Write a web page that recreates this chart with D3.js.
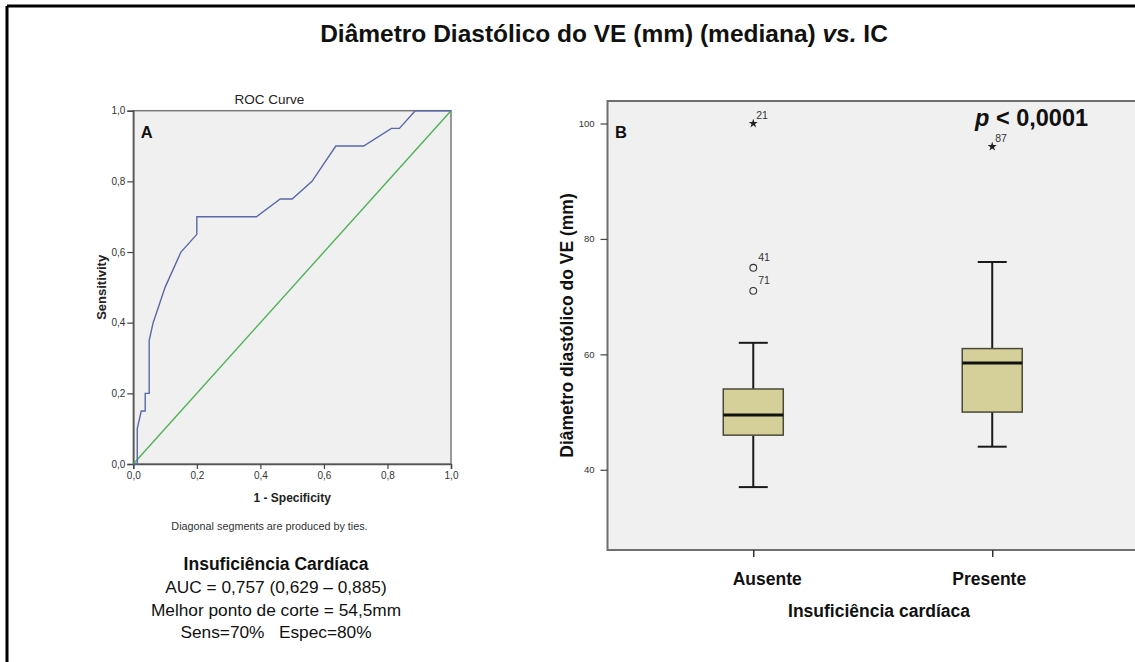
<!DOCTYPE html>
<html>
<head>
<meta charset="utf-8">
<script src="https://cdn.jsdelivr.net/npm/d3@7"></script>
<style>
  html, body { margin: 0; padding: 0; background: #fff; }
  svg { display: block; }
  text { font-family: "Liberation Sans", Arial, sans-serif; }
</style>
</head>
<body>
<svg id="fig" width="1135" height="662"></svg>
<script>
// ROC curve: false positive rate (1 - specificity) and sensitivity
const rocFpr = [0, 0.0125, 0.0125, 0.025, 0.0375, 0.0375, 0.05, 0.05, 0.0625, 0.1, 0.15, 0.2, 0.2,
                0.3875, 0.4625, 0.5, 0.5625, 0.6375, 0.725, 0.8125, 0.8375, 0.8875, 1];
const rocTpr = [0, 0, 0.10, 0.15, 0.15, 0.20, 0.20, 0.35, 0.40, 0.50, 0.60, 0.65, 0.70,
                0.70, 0.75, 0.75, 0.80, 0.90, 0.90, 0.95, 0.95, 1.0, 1.0];
const rocTicks = [0, 0.2, 0.4, 0.6, 0.8, 1.0];

// Box plot: LV diastolic diameter (mm) by heart failure group
const groups = ["Ausente", "Presente"];
const boxLow = [37, 44];
const boxQ1 = [46, 50];
const boxMedian = [49.5, 58.5];
const boxQ3 = [54, 61];
const boxHigh = [62, 76];
const outGroup = ["Ausente", "Ausente", "Ausente", "Presente"];
const outValue = [100, 75, 71, 96];
const outCase = ["21", "41", "71", "87"];
const outKind = ["extreme", "outlier", "outlier", "extreme"];
const boxTicks = [40, 60, 80, 100];

const aucLines = ["AUC = 0,757 (0,629 \u2013 0,885)", "Melhor ponto de corte = 54,5mm", "Sens=70%   Espec=80%"];

const narrowFont = "'Liberation Sans Narrow', 'Arial Narrow', 'Liberation Sans', sans-serif";
const svg = d3.select("#fig");
const comma = v => d3.format(".1f")(v).replace(".", ",");

// outer border (top and left edges)
svg.append("line").attr("x1", 7).attr("y1", 6).attr("x2", 1135).attr("y2", 6)
  .attr("stroke", "#000").attr("stroke-width", 3);
svg.append("line").attr("x1", 7).attr("y1", 6).attr("x2", 7).attr("y2", 662)
  .attr("stroke", "#000").attr("stroke-width", 3);

// main title
const title = svg.append("text").attr("x", 604).attr("y", 42).attr("text-anchor", "middle")
  .attr("font-size", 24.5).attr("font-weight", "bold").attr("fill", "#111");
title.append("tspan").text("Diâmetro Diastólico do VE (mm) (mediana) ");
title.append("tspan").attr("font-style", "italic").text("vs.");
title.append("tspan").text(" IC");

// ---------- Panel A: ROC curve ----------
const rx = d3.scaleLinear().domain([0, 1]).range([133.3, 451]);
const ry = d3.scaleLinear().domain([0, 1]).range([464, 110.7]);

svg.append("rect").attr("x", rx(0)).attr("y", ry(1)).attr("width", rx(1) - rx(0)).attr("height", ry(0) - ry(1))
  .attr("fill", "#f0f0f0").attr("stroke", "#7a7a7a").attr("stroke-width", 1.5);

const axA = svg.append("g").attr("transform", `translate(0,${ry(0)})`)
  .call(d3.axisBottom(rx).tickValues(rocTicks).tickFormat(comma).tickSize(5).tickPadding(3));
const ayA = svg.append("g").attr("transform", `translate(${rx(0)},0)`)
  .call(d3.axisLeft(ry).tickValues(rocTicks).tickFormat(comma).tickSize(6).tickPadding(2));
[axA, ayA].forEach(g => {
  g.select(".domain").attr("stroke", "#555").attr("stroke-width", 1.5);
  g.selectAll(".tick line").attr("stroke", "#444").attr("stroke-width", 1.2);
  g.selectAll(".tick text").attr("font-size", 10).attr("fill", "#333")
    .style("font-family", "'Liberation Sans', Arial, sans-serif");
});

// reference diagonal
svg.append("line").attr("x1", rx(0)).attr("y1", ry(0)).attr("x2", rx(1)).attr("y2", ry(1))
  .attr("stroke", "#4cb256").attr("stroke-width", 1.4);

// ROC curve
const rocLine = d3.line().x(d => rx(d[0])).y(d => ry(d[1]));
svg.append("path").datum(rocFpr.map((f, i) => [f, rocTpr[i]]))
  .attr("d", rocLine).attr("fill", "none").attr("stroke", "#5a68a8").attr("stroke-width", 1.4);

svg.append("text").attr("x", 140.7).attr("y", 138.3).attr("font-size", 16.5).attr("font-weight", "bold")
  .attr("fill", "#111").text("A");
svg.append("text").attr("x", 269.5).attr("y", 104).attr("text-anchor", "middle").attr("font-size", 13.5)
  .attr("fill", "#222").text("ROC Curve");
svg.append("text").attr("transform", `translate(105.5,${(ry(0) + ry(1)) / 2}) rotate(-90)`)
  .attr("text-anchor", "middle").attr("font-size", 13).attr("font-weight", "bold").attr("fill", "#222")
  .text("Sensitivity");
svg.append("text").attr("x", (rx(0) + rx(1)) / 2).attr("y", 502).attr("text-anchor", "middle")
  .attr("font-size", 12).attr("font-weight", "bold").attr("fill", "#222").text("1 - Specificity");
svg.append("text").attr("x", 269.5).attr("y", 530).attr("text-anchor", "middle")
  .attr("font-size", 10.8).attr("fill", "#333").text("Diagonal segments are produced by ties.");

svg.append("text").attr("x", 276).attr("y", 570).attr("text-anchor", "middle")
  .attr("font-size", 17.5).attr("font-weight", "bold").attr("fill", "#111").text("Insuficiência Cardíaca");
aucLines.forEach((t, i) => {
  svg.append("text").attr("x", 276).attr("y", 593 + i * 22.5).attr("text-anchor", "middle")
    .attr("font-size", 17.3).attr("fill", "#111").style("white-space", "pre").text(t);
});

// ---------- Panel B: box plot ----------
const bx = d3.scalePoint().domain(groups).range([607.5, 1138]).padding(0.61);
const by = d3.scaleLinear().domain([26.1, 103.9]).range([550, 101]);
const boxW = 60, capW = 29;

svg.append("rect").attr("x", 607.5).attr("y", by(103.9)).attr("width", 1140 - 607.5).attr("height", by(26.1) - by(103.9))
  .attr("fill", "#f0f0f0").attr("stroke", "#6e6e6e").attr("stroke-width", 2);

const ayB = svg.append("g").attr("transform", "translate(607.5,0)")
  .call(d3.axisLeft(by).tickValues(boxTicks).tickFormat(d3.format("d")).tickSize(7).tickPadding(6));
ayB.select(".domain").remove();
ayB.selectAll(".tick line").attr("stroke", "#444").attr("stroke-width", 1.2);
ayB.selectAll(".tick text").attr("font-size", 9.5).attr("fill", "#333").style("font-family", narrowFont);

const axB = svg.append("g").attr("transform", `translate(0,${by(26.1)})`)
  .call(d3.axisBottom(bx).tickSize(7).tickFormat(""));
axB.select(".domain").remove();
axB.selectAll(".tick line").attr("stroke", "#333").attr("stroke-width", 1.5);

const labelShift = [14, -3];
groups.forEach((g, i) => {
  svg.append("text").attr("x", bx(g) + labelShift[i]).attr("y", 585).attr("text-anchor", "middle")
    .attr("font-size", 17.5).attr("font-weight", "bold").attr("fill", "#111").text(g);
});
svg.append("text").attr("x", 879).attr("y", 617).attr("text-anchor", "middle")
  .attr("font-size", 17.5).attr("font-weight", "bold").attr("fill", "#111").text("Insuficiência cardíaca");
svg.append("text").attr("transform", `translate(572.5,${(by(26.1) + by(103.9)) / 2}) rotate(-90)`)
  .attr("text-anchor", "middle").attr("font-size", 17.5).attr("font-weight", "bold").attr("fill", "#111")
  .text("Diâmetro diastólico do VE (mm)");

// whiskers, boxes and medians
groups.forEach((g, i) => {
  const cx = bx(g);
  const grp = svg.append("g");
  grp.append("line").attr("x1", cx).attr("x2", cx).attr("y1", by(boxHigh[i])).attr("y2", by(boxQ3[i]))
    .attr("stroke", "#1a1a1a").attr("stroke-width", 2);
  grp.append("line").attr("x1", cx).attr("x2", cx).attr("y1", by(boxQ1[i])).attr("y2", by(boxLow[i]))
    .attr("stroke", "#1a1a1a").attr("stroke-width", 2);
  [boxHigh[i], boxLow[i]].forEach(v => {
    grp.append("line").attr("x1", cx - capW / 2).attr("x2", cx + capW / 2).attr("y1", by(v)).attr("y2", by(v))
      .attr("stroke", "#1a1a1a").attr("stroke-width", 2);
  });
  grp.append("rect").attr("x", cx - boxW / 2).attr("y", by(boxQ3[i])).attr("width", boxW)
    .attr("height", by(boxQ1[i]) - by(boxQ3[i]))
    .attr("fill", "#d5d09a").attr("stroke", "#4a4a3a").attr("stroke-width", 1.5);
  grp.append("line").attr("x1", cx - boxW / 2).attr("x2", cx + boxW / 2)
    .attr("y1", by(boxMedian[i])).attr("y2", by(boxMedian[i]))
    .attr("stroke", "#111").attr("stroke-width", 3);
});

// outliers (circles) and extremes (stars) with case numbers
outValue.forEach((v, i) => {
  const cx = bx(outGroup[i]), cy = by(v);
  if (outKind[i] === "extreme") {
    svg.append("path").attr("d", d3.symbol(d3.symbolStar, 26)())
      .attr("transform", `translate(${cx},${cy})`).attr("fill", "#222");
    svg.append("text").attr("x", cx + 3).attr("y", cy - 5).attr("font-size", 10.5).attr("fill", "#333")
      .style("font-family", narrowFont).text(outCase[i]);
  } else {
    svg.append("circle").attr("cx", cx).attr("cy", cy).attr("r", 3.4)
      .attr("fill", "none").attr("stroke", "#333").attr("stroke-width", 1.1);
    svg.append("text").attr("x", cx + 5).attr("y", cy - 6.5).attr("font-size", 10.5).attr("fill", "#333")
      .style("font-family", narrowFont).text(outCase[i]);
  }
});

svg.append("text").attr("x", 615).attr("y", 138.3).attr("font-size", 16.5).attr("font-weight", "bold")
  .attr("fill", "#111").text("B");

const pText = svg.append("text").attr("x", 975).attr("y", 126).attr("font-size", 23.5)
  .attr("font-weight", "bold").attr("fill", "#111");
pText.append("tspan").attr("font-style", "italic").text("p");
pText.append("tspan").text(" < 0,0001");
</script>
</body>
</html>
